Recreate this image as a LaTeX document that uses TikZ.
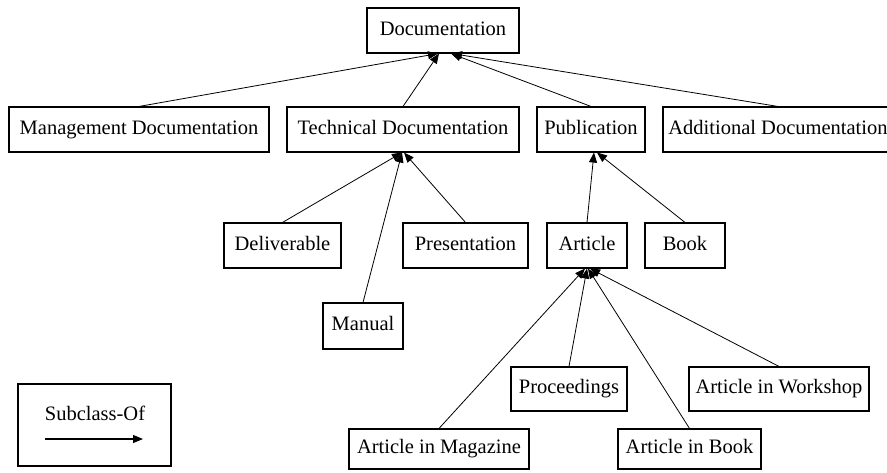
\documentclass[tikz,border=0pt]{standalone}
\usepackage{fontspec}
\setmainfont{Liberation Serif}
\usetikzlibrary{arrows.meta}

\begin{document}
\begin{tikzpicture}[
    x=1pt, y=-1pt,
    box/.style={draw, line width=1.1pt, minimum height=45pt, inner sep=0pt,
                text height=0.9em, text depth=0em,
                font=\fontsize{20.5}{24}\selectfont},
    arrow/.style={-{Triangle[length=10pt,width=8pt]}, line width=0.8pt}
]
\fill[white] (0,0) rectangle (887,472);
\useasboundingbox (0,0) rectangle (887,472);
\clip (0,0) rectangle (887,472);

% Top level
\node[box, minimum width=152pt] (doc) at (443, 30.5) {Documentation};

% Second level
\node[box, minimum width=260pt] (mgmt) at (139, 129.5) {Management Documentation};
\node[box, minimum width=232pt] (tech) at (403, 129.5) {Technical Documentation};
\node[box, minimum width=108pt] (pub) at (591, 129.5) {Publication};
\node[box, minimum width=230pt] (addl) at (778, 129.5) {Additional Documentation};

% Technical documentation
\node[box, minimum width=117pt] (deliv) at (282.5, 245.5) {Deliverable};
\node[box, minimum width=125pt] (pres) at (465.5, 245.5) {Presentation};
\node[box, minimum width=80pt, minimum height=46pt] (manual) at (363, 326) {Manual};

% Publication
\node[box, minimum width=80pt] (article) at (587, 245.5) {Article};
\node[box, minimum width=80pt] (book) at (685, 245.5) {Book};

% Article
\node[box, minimum width=116pt, minimum height=44pt] (proc) at (569, 389) {Proceedings};
\node[box, minimum width=180pt, minimum height=44pt] (workshop) at (779, 389) {Article in Workshop};
\node[box, minimum width=180pt, minimum height=40pt] (magazine) at (439, 449) {Article in Magazine};
\node[box, minimum width=143pt, minimum height=40pt] (abook) at (689.5, 449) {Article in Book};

% Arrows
\draw[arrow] (mgmt.north) -- ([xshift=-5pt]doc.south);
\draw[arrow] (tech.north) -- ([xshift=-4pt]doc.south);
\draw[arrow] (pub.north) -- ([xshift=8pt]doc.south);
\draw[arrow] (addl.north) -- ([xshift=9pt]doc.south);

\draw[arrow] (deliv.north) -- ([xshift=-1pt]tech.south);
\draw[arrow] (manual.north) -- ([xshift=-1pt]tech.south);
\draw[arrow] (pres.north) -- ([xshift=1pt]tech.south);

\draw[arrow] (article.north) -- ([xshift=3pt]pub.south);
\draw[arrow] (book.north) -- ([xshift=6pt]pub.south);

\draw[arrow] (magazine.north) -- ([xshift=-2pt]article.south);
\draw[arrow] (proc.north) -- (article.south);
\draw[arrow] (abook.north) -- ([xshift=1pt]article.south);
\draw[arrow] (workshop.north) -- ([xshift=3pt]article.south);

% Legend
\node[draw, line width=1.1pt, minimum width=153pt, minimum height=82pt] (legend) at (94.5, 425) {};
\node[font=\fontsize{20.5}{24}\selectfont] (legtext) at (95, 413) {Subclass-Of};
\coordinate (legA) at (45, 439);
\coordinate (legB) at (143, 439);
\draw[arrow, line width=1.1pt] (legA) -- (legB);
\end{tikzpicture}
\end{document}
